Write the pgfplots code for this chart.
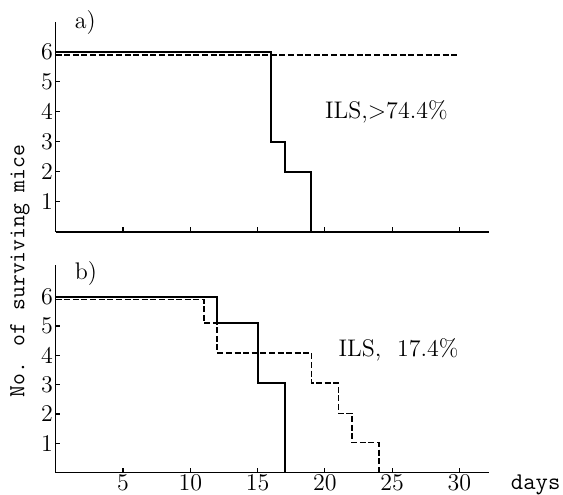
\documentclass[border=0pt]{standalone}
\usepackage{pgfplots}
\pgfplotsset{compat=1.18}
\begin{document}
\begin{tikzpicture}
\useasboundingbox (0,0) rectangle (281.5pt,247pt);
\pgfplotsset{myaxis/.style={
  scale only axis, width=216.7pt,
  xmin=0, xmax=32.2, ymin=0,
  axis x line=bottom, axis y line=left,
  axis line style={-, line width=0.8pt, black},
  tick align=inside, major tick length=2.2pt,
  xtick={5,10,...,30}, ytick={1,...,6},
  tick style={black, line width=0.6pt},
  ticklabel style={font=\fontsize{12}{14}\selectfont},
  yticklabel style={inner sep=1.2pt},
  xticklabel style={inner sep=0pt, yshift=-1.2pt},
  clip=false}}
\begin{axis}[myaxis, at={(27.85pt,131.15pt)}, anchor=south west, height=105pt, ymax=7,
  xticklabel=\empty]
\addplot[const plot, black, line width=1pt] coordinates {(0,6) (16,3) (17,2) (19,0)};
\addplot[black, line width=0.8pt, dash pattern=on 3pt off 1.3pt] coordinates {(0,5.9) (30,5.9)};
\node[anchor=west, font=\fontsize{12}{14}\selectfont] at (axis cs:0.9,6.97) {a)};
\node[anchor=west, font=\fontsize{12}{14}\selectfont] at (axis cs:19.5,4.0) {ILS,$>$74.4\%};
\end{axis}
\begin{axis}[myaxis, at={(27.85pt,10.7pt)}, anchor=south west, height=103.8pt, ymax=7.08]
\addplot[const plot, black, line width=1pt] coordinates {(0,6) (12,5.1) (15,3.05) (17,0)};
\addplot[const plot, black, line width=0.8pt, dash pattern=on 3pt off 1.3pt] coordinates {(0,5.9) (11,5.1) (12,4.08) (19,3.05) (21,2.02) (22,1.02) (24,0)};
\node[anchor=west, font=\fontsize{12}{14}\selectfont] at (axis cs:0.9,6.78) {b)};
\node[anchor=west, font=\fontsize{12}{14}\selectfont] at (axis cs:20.5,4.18) {ILS,\ \ 17.4\%};
\node[anchor=base west, font=\fontsize{12}{14}\ttfamily] at (axis cs:33.3,-0.56) {days};
\end{axis}
\node[rotate=90, font=\fontsize{11.5}{13}\ttfamily] at (10pt,111.5pt) {No. of surviving mice};
\end{tikzpicture}
\end{document}
